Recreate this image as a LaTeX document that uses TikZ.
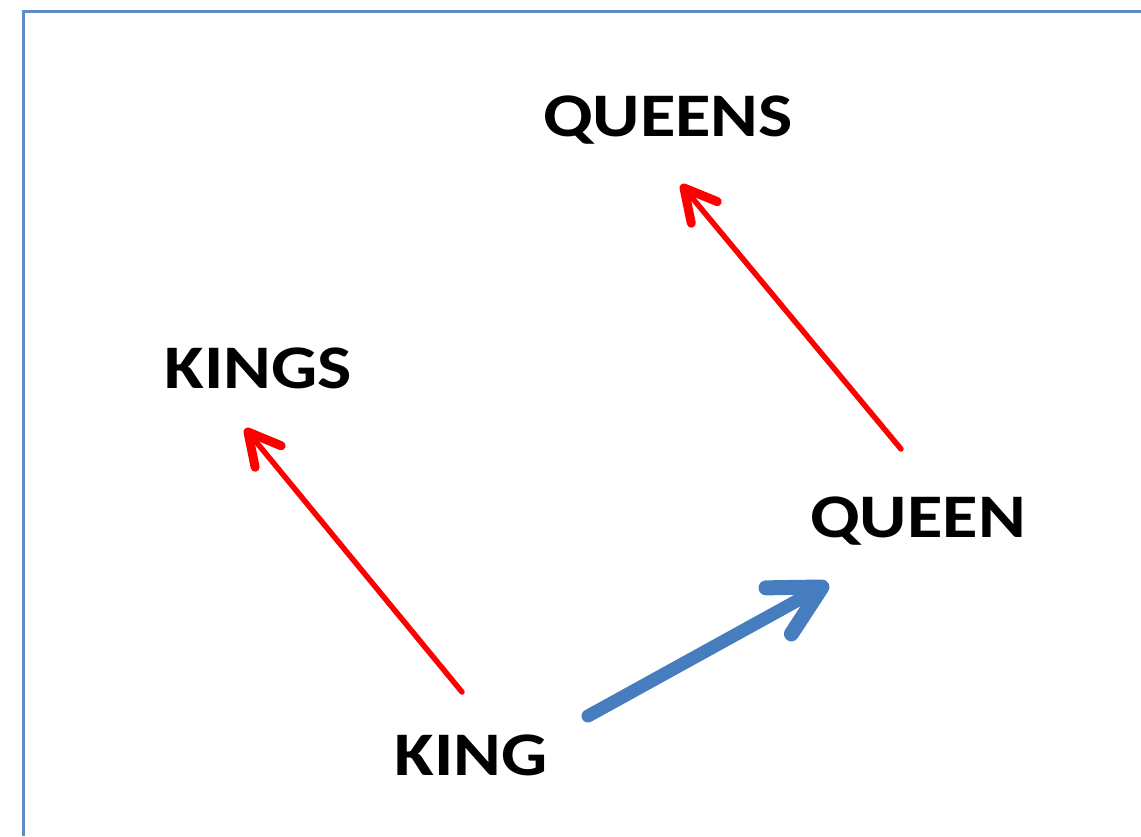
\documentclass[tikz,border=0pt]{standalone}
\usepackage{fontspec}
\setmainfont[FakeStretch=1.17]{Carlito}
\usepackage{tikz}
\usetikzlibrary{calc}

\definecolor{wordred}{RGB}{255,0,0}
\definecolor{wordblue}{RGB}{70,125,190}
\definecolor{framebl}{RGB}{95,140,200}

\tikzset{
  word/.style={font=\fontsize{62}{70}\selectfont\bfseries, inner sep=0pt},
  shiftarrow/.style={wordred, line width=5.5pt, line cap=round},
  shifthead/.style={wordred, line width=9pt, line cap=round, line join=round},
  genderarrow/.style={wordblue, line width=13pt, line cap=round},
  genderhead/.style={wordblue, line width=15pt, line cap=round, line join=round}
}

\begin{document}
\begin{tikzpicture}[x=1pt, y=-1pt]
    % Rahmen
    \useasboundingbox (0,0) rectangle (1141,836);
    \draw[framebl, line width=3pt] (1141,11) -- (23,11) -- (23,836);

    % Woerter
    \node[word] (queens) at (668,120) {QUEENS};
    \node[word] (kings) at (258,368) {KINGS};
    \node[word] (queen) at (918,521) {QUEEN};
    \node[word] (king) at (471,755) {KING};

    % Endpunkte der Pfeile
    \coordinate (kingtail) at (462,692);
    \coordinate (kingstip) at (248,432);
    \coordinate (queentail) at (901,449);
    \coordinate (queenstip) at (684,188);
    \coordinate (bluetail) at (588,716);
    \coordinate (bluetip) at (822,587);

    % Schaft
    \draw[shiftarrow] (kingtail) -- (kingstip);
    \draw[shiftarrow] (queentail) -- (queenstip);
    \draw[genderarrow] (bluetail) -- (bluetip);

    % Spitzen
    \draw[shifthead] ($(kingstip)!36pt!28:(kingtail)$) -- (kingstip) -- ($(kingstip)!36pt!-28:(kingtail)$);
    \draw[shifthead] ($(queenstip)!36pt!28:(queentail)$) -- (queenstip) -- ($(queenstip)!36pt!-28:(queentail)$);
    \draw[genderhead] ($(bluetip)!56pt!28:(bluetail)$) -- (bluetip) -- ($(bluetip)!56pt!-28:(bluetail)$);
\end{tikzpicture}
\end{document}
